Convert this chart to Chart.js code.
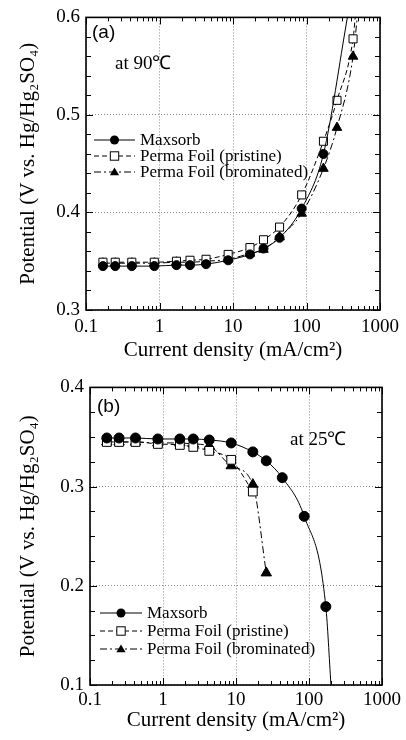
<!DOCTYPE html>
<html>
<head>
<meta charset="utf-8">
<script src="https://cdn.jsdelivr.net/npm/chart.js"></script>
<style>
  body { margin: 0; background: #fff; }
  .panel { width: 406px; height: 370px; }
</style>
</head>
<body>
<div class="panel"><canvas id="chart-a" width="406" height="370"></canvas></div>
<div class="panel"><canvas id="chart-b" width="406" height="370"></canvas></div>
<script>
// (a) at 90 C - current density in mA/cm2, potential in V
var currentA = [0.17, 0.25, 0.42, 0.85, 1.7, 2.6, 4.3, 8.6, 17, 26, 43, 86, 170];
var maxsorbA = [0.345, 0.345, 0.345, 0.345, 0.346, 0.346, 0.347, 0.351, 0.357, 0.363, 0.374, 0.404, 0.460];
var currentFoilA = [0.17, 0.25, 0.42, 0.85, 1.7, 2.6, 4.3, 8.6, 17, 26, 43, 86, 170, 260, 430];
var pristineA = [0.349, 0.349, 0.349, 0.349, 0.350, 0.351, 0.352, 0.357, 0.364, 0.372, 0.385, 0.418, 0.473, 0.515, 0.578];
var brominatedA = [0.348, 0.348, 0.348, 0.348, 0.349, 0.349, 0.350, 0.352, 0.358, 0.362, 0.375, 0.399, 0.445, 0.487, 0.560];
// where the fitted curves leave the top of the frame
var tailA = { maxsorb: [360, 0.6], pristine: [460, 0.6], brominated: [490, 0.6] };

// (b) at 25 C
var currentB = [0.17, 0.25, 0.42, 0.85, 1.7, 2.6, 4.3, 8.6, 17, 26, 43, 86, 170];
var maxsorbB = [0.349, 0.349, 0.349, 0.348, 0.348, 0.348, 0.347, 0.344, 0.335, 0.326, 0.309, 0.270, 0.179];
var currentPristineB = [0.17, 0.25, 0.42, 0.85, 1.7, 2.6, 4.3, 8.6, 17];
var pristineB = [0.345, 0.345, 0.345, 0.343, 0.342, 0.340, 0.336, 0.327, 0.295];
var currentBromB = [0.17, 0.25, 0.42, 0.85, 1.7, 2.6, 4.3, 8.6, 17, 26];
var brominatedB = [0.345, 0.345, 0.345, 0.344, 0.344, 0.343, 0.341, 0.321, 0.302, 0.213];
var tailB = { maxsorb: [200, 0.1] };

var xLabels = ['0.1', '1', '10', '100', '1000'];
var seriesNames = ['Maxsorb', 'Perma Foil (pristine)', 'Perma Foil (brominated)'];

Chart.defaults.font.family = "'Liberation Serif', 'Times New Roman', serif";
Chart.defaults.color = '#000';

function isDecade(v) {
  var l = Math.log10(v);
  return Math.abs(l - Math.round(l)) < 1e-6;
}
function isTenth(v) {
  return Math.abs(v * 10 - Math.round(v * 10)) < 1e-6;
}

var styles = [
  { pointStyle: 'circle', fill: '#000', dash: [] },
  { pointStyle: 'rect', fill: '#fff', dash: [5, 3] },
  { pointStyle: 'triangle', fill: '#000', dash: [7, 3, 2, 3] }
];

function series(xs, ys, tail, k, r) {
  var pts = xs.map(function (x, i) { return { x: x, y: ys[i] }; });
  var radius = xs.map(function () { return k === 1 ? r + 1.2 : (k === 2 ? r + 1 : r); });
  if (tail) { pts.push({ x: tail[0], y: tail[1] }); radius.push(0); }
  return {
    label: seriesNames[k],
    data: pts,
    borderColor: '#000',
    borderWidth: 1,
    borderDash: styles[k].dash,
    pointStyle: styles[k].pointStyle,
    pointRadius: radius,
    pointBackgroundColor: styles[k].fill,
    pointBorderColor: '#000',
    pointBorderWidth: 1,
    cubicInterpolationMode: 'monotone'
  };
}

function drawMarker(ctx, k, x, y, r) {
  ctx.beginPath();
  ctx.setLineDash([]);
  if (k === 0) {
    ctx.arc(x, y, r, 0, Math.PI * 2);
    ctx.fillStyle = '#000'; ctx.fill();
  } else if (k === 1) {
    ctx.fillStyle = '#fff';
    ctx.fillRect(x - r, y - r, 2 * r, 2 * r);
    ctx.strokeRect(x - r, y - r, 2 * r, 2 * r);
  } else {
    ctx.moveTo(x, y - r * 1.1);
    ctx.lineTo(x + r * 1.1, y + r * 0.8);
    ctx.lineTo(x - r * 1.1, y + r * 0.8);
    ctx.closePath();
    ctx.fillStyle = '#000'; ctx.fill();
  }
}

// frame, inward ticks, legend and panel notes
var framePlugin = {
  id: 'frame',
  afterDraw: function (chart, args, opts) {
    var ctx = chart.ctx, a = chart.chartArea;
    var xs = chart.scales.x, ys = chart.scales.y;
    ctx.save();
    ctx.strokeStyle = '#000';
    ctx.lineWidth = 1;
    ctx.setLineDash([]);
    ctx.beginPath();
    xs.ticks.forEach(function (t) {
      var px = Math.round(xs.getPixelForValue(t.value)) + 0.5;
      var len = isDecade(t.value) ? 7 : 4;
      ctx.moveTo(px, a.bottom); ctx.lineTo(px, a.bottom - len);
      ctx.moveTo(px, a.top); ctx.lineTo(px, a.top + len);
    });
    ys.ticks.forEach(function (t) {
      var py = Math.round(ys.getPixelForValue(t.value)) + 0.5;
      var len = isTenth(t.value) ? 7 : 5;
      ctx.moveTo(a.left, py); ctx.lineTo(a.left + len, py);
      ctx.moveTo(a.right, py); ctx.lineTo(a.right - len, py);
    });
    ctx.stroke();
    ctx.lineWidth = 1.6;
    ctx.strokeRect(a.left, a.top, a.right - a.left, a.bottom - a.top);

    // legend
    var lg = opts.legend;
    ctx.lineWidth = 1;
    for (var k = 0; k < 3; k++) {
      var y = lg.y + k * lg.gap;
      ctx.beginPath();
      ctx.setLineDash(styles[k].dash);
      ctx.moveTo(lg.x0, y); ctx.lineTo(lg.x1, y);
      ctx.stroke();
      drawMarker(ctx, k, (lg.x0 + lg.x1) / 2, y, k === 0 ? 4.5 : 4.2);
      ctx.fillStyle = '#000';
      ctx.font = "17px 'Liberation Serif', serif";
      ctx.textBaseline = 'middle';
      ctx.fillText(seriesNames[k], lg.x1 + 5, y + 1);
    }

    // panel letter and temperature
    ctx.fillStyle = '#000';
    ctx.textBaseline = 'middle';
    ctx.font = "19px 'Liberation Sans', sans-serif";
    ctx.fillText(opts.tag[0], opts.tag[1], opts.tag[2]);
    ctx.font = "19px 'Liberation Serif', serif";
    ctx.fillText(opts.temp[0], opts.temp[1], opts.temp[2]);
    ctx.restore();
  }
};

function makeChart(id, datasets, p) {
  return new Chart(document.getElementById(id), {
    type: 'line',
    data: { datasets: datasets },
    plugins: [framePlugin],
    options: {
      responsive: false,
      animation: false,
      layout: { padding: p.padding },
      plugins: {
        legend: { display: false },
        tooltip: { enabled: false },
        frame: { legend: p.legend, tag: p.tag, temp: p.temp }
      },
      scales: {
        x: {
          type: 'logarithmic',
          min: 0.1,
          max: 1000,
          afterBuildTicks: function (scale) {
            var t = [];
            for (var e = -1; e <= 3; e++) {
              for (var m = 1; m <= 9; m++) {
                var v = parseFloat((m * Math.pow(10, e)).toPrecision(6));
                if (v <= 1000) t.push({ value: v });
              }
            }
            scale.ticks = t;
          },
          afterFit: function (scale) { scale.height = p.xHeight; },
          grid: {
            drawTicks: false,
            lineWidth: 1,
            color: function (c) {
              return c.tick && isDecade(c.tick.value) ? '#8a8a8a' : 'rgba(0,0,0,0)';
            }
          },
          border: { display: false, dash: [1, 2] },
          ticks: {
            autoSkip: false,
            maxRotation: 0,
            padding: p.xTickPad,
            font: { size: 19 },
            callback: function (v) {
              if (!isDecade(v)) return '';
              return xLabels[Math.round(Math.log10(v)) + 1];
            }
          },
          title: {
            display: true,
            text: 'Current density (mA/cm²)',
            font: { size: 21 },
            padding: { top: 0, bottom: p.xTitlePad }
          }
        },
        y: {
          type: 'linear',
          min: p.yMin,
          max: p.yMax,
          afterBuildTicks: function (scale) {
            var t = [];
            var n = Math.round((p.yMax - p.yMin) / p.yStep);
            for (var i = 0; i <= n; i++) {
              t.push({ value: Math.round((p.yMin + i * p.yStep) * 10000) / 10000 });
            }
            scale.ticks = t;
          },
          afterFit: function (scale) { scale.width = p.yWidth; },
          grid: {
            drawTicks: false,
            lineWidth: 1,
            color: function (c) {
              return c.tick && isTenth(c.tick.value) ? '#8a8a8a' : 'rgba(0,0,0,0)';
            }
          },
          border: { display: false, dash: [1, 2] },
          ticks: {
            autoSkip: false,
            padding: 6,
            font: { size: 19 },
            callback: function (v) { return isTenth(v) ? v.toFixed(1) : ''; }
          },
          title: {
            display: true,
            text: 'Potential (V vs. Hg/Hg₂SO₄)',
            font: { size: 21 },
            padding: { top: 16, bottom: 0 }
          }
        }
      }
    }
  });
}

makeChart('chart-a', [
  series(currentA, maxsorbA, tailA.maxsorb, 0, 4.5),
  series(currentFoilA, pristineA, tailA.pristine, 1, 4.5),
  series(currentFoilA, brominatedA, tailA.brominated, 2, 4.5)
], {
  yMin: 0.3, yMax: 0.6, yStep: 0.02, yWidth: 86, xHeight: 60, xTitlePad: 7, xTickPad: 6,
  padding: { top: 13, right: 26, left: 0, bottom: 0 },
  legend: { x0: 94, x1: 135, y: 140, gap: 16 },
  tag: ['(a)', 92, 33],
  temp: ['at 90℃', 115, 64]
});

makeChart('chart-b', [
  series(currentB, maxsorbB, tailB.maxsorb, 0, 5),
  series(currentPristineB, pristineB, null, 1, 5),
  series(currentBromB, brominatedB, null, 2, 5)
], {
  yMin: 0.1, yMax: 0.4, yStep: 0.025, yWidth: 90, xHeight: 55, xTitlePad: 7, xTickPad: 4,
  padding: { top: 15, right: 24, left: 0, bottom: 0 },
  legend: { x0: 100, x1: 142, y: 243, gap: 18 },
  tag: ['(b)', 97, 37],
  temp: ['at 25℃', 290, 70]
});
</script>
</body>
</html>
